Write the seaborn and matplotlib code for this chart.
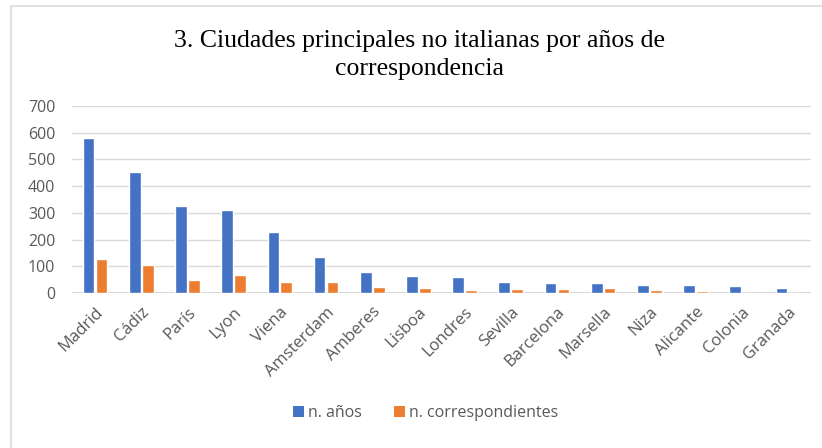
import matplotlib
matplotlib.use("Agg")
import matplotlib.pyplot as plt
import seaborn as sns
import pandas as pd
from matplotlib.lines import Line2D
from matplotlib.patches import Patch

ciudades = ["Madrid", "Cádiz", "París", "Lyon", "Viena", "Amsterdam", "Amberes", "Lisboa",
            "Londres", "Sevilla", "Barcelona", "Marsella", "Niza", "Alicante", "Colonia", "Granada"]
n_anios = [580, 452, 327, 312, 227, 135, 78, 64, 60, 42, 39, 39, 29, 29, 27, 20]
n_corresp = [127, 106, 50, 69, 41, 41, 24, 20, 12, 14, 14, 20, 11, 9, 0, 1]
series = ["n. años", "n. correspondientes"]
colores = ["#4472C4", "#ED7D31"]

df = pd.DataFrame({
    "ciudad": ciudades * 2,
    "valor": n_anios + n_corresp,
    "serie": [series[0]] * len(ciudades) + [series[1]] * len(ciudades),
})

sns.set_theme(style="white")
plt.rcParams["font.family"] = ["Open Sans", "DejaVu Sans"]

fig = plt.figure(figsize=(8.22, 4.48), dpi=100)
ax = fig.add_axes([72 / 822, 1 - 293 / 448, (811 - 72) / 822, (293 - 106) / 448])

sns.barplot(data=df, x="ciudad", y="valor", hue="serie", palette=colores,
            width=0.56, gap=0.1, ax=ax, legend=False, saturation=1)

ax.set_ylim(0, 700)
ax.set_yticks(range(0, 701, 100))
ax.yaxis.grid(True, color="#D9D9D9", linewidth=1)
ax.set_axisbelow(True)
for s in ax.spines.values():
    s.set_visible(False)
ax.axhline(0, color="#D0D0D0", linewidth=1.2, zorder=0)
ax.set_xlabel("")
ax.set_ylabel("")
ax.tick_params(axis="both", length=0, colors="#595959")
ax.tick_params(axis="y", pad=12, labelsize=11.5)
ax.tick_params(axis="x", pad=8, labelsize=12)
plt.setp(ax.get_xticklabels(), rotation=45, ha="right", rotation_mode="anchor")

fig.text(0.51, 1 - 55 / 448, "3. Ciudades principales no italianas por años de\ncorrespondencia",
         ha="center", va="center", fontsize=18.5, family="Liberation Serif",
         color="#000000", linespacing=1.3)

handles = [Patch(facecolor=c, edgecolor="none") for c in colores]
fig.legend(handles, series, loc="center", bbox_to_anchor=(426 / 822, 1 - 413 / 448),
           ncol=2, frameon=False, fontsize=11.5, handlelength=0.65, handleheight=0.65,
           columnspacing=2.0, handletextpad=0.3, labelcolor="#595959")

fig.add_artist(Line2D([11 / 822, 1], [1 - 6 / 448, 1 - 6 / 448], color="#E0E0E0", linewidth=1.5))
fig.add_artist(Line2D([11 / 822, 11 / 822], [0, 1 - 6 / 448], color="#E0E0E0", linewidth=1.5))

fig.savefig("out.png", dpi=100)
